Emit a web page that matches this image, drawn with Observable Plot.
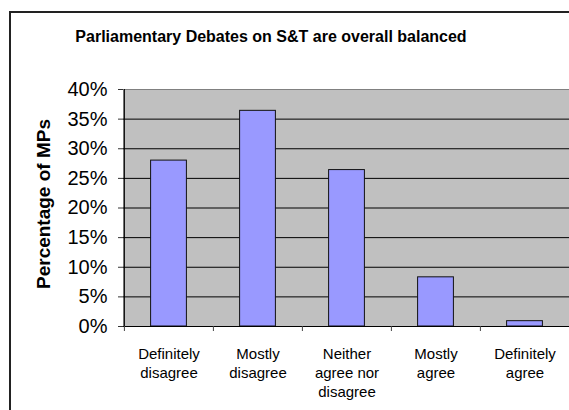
<!DOCTYPE html>
<html><head><meta charset="utf-8">
<script src="https://cdn.jsdelivr.net/npm/d3@7"></script>
<script src="https://cdn.jsdelivr.net/npm/@observablehq/plot@0.6"></script>
<style>
html,body{margin:0;padding:0;background:#fff;}
#wrap{position:relative;width:569px;height:410px;overflow:hidden;font-family:Arial,"Liberation Sans",sans-serif;}
#border{position:absolute;left:9px;top:11px;width:700px;height:600px;border:2px solid #222;box-sizing:border-box}
#title{position:absolute;left:0;top:29px;width:542px;text-align:center;font-weight:bold;font-size:16px;line-height:16px;color:#000}
#chart{position:absolute;left:0;top:0}
</style></head>
<body><div id="wrap"><div id="border"></div><div id="chart"></div><div id="title"></div></div>
<script>
const title = "Parliamentary Debates on S&T are overall balanced";
const yLabel = "Percentage of MPs";
const categories = ["Definitely\ndisagree", "Mostly\ndisagree", "Neither\nagree nor\ndisagree", "Mostly\nagree", "Definitely\nagree"];
const values = [0.280, 0.364, 0.264, 0.083, 0.009];
const yTicks = [0, 0.05, 0.10, 0.15, 0.20, 0.25, 0.30, 0.35, 0.40];

document.getElementById("title").textContent = title;

const W = 569, H = 410, mL = 123, mR = 0, mT = 89, mB = 84;
const step = (W - mL - mR) / categories.length;
const barWidth = 36;
const inset = (step - barWidth) / 2;
const data = categories.map((c, i) => ({category: c, value: values[i]}));

const chart = Plot.plot({
  width: W, height: H,
  marginLeft: mL, marginRight: mR, marginTop: mT, marginBottom: mB,
  style: {fontFamily: "Arial, 'Liberation Sans', sans-serif", background: "transparent", color: "#000", overflow: "visible"},
  x: {domain: categories, padding: 0, label: null},
  y: {domain: [0, 0.4], label: null},
  marks: [
    Plot.frame({fill: "#c0c0c0", stroke: "#808080"}),
    Plot.ruleY(yTicks.filter(t => t > 0 && t < 0.4), {stroke: "#000", strokeWidth: 1}),
    Plot.barY(data, {x: "category", y: "value", fill: "#9999ff", stroke: "#111", strokeWidth: 1, insetLeft: inset, insetRight: inset}),
    Plot.ruleY([0], {stroke: "#000"}),
    Plot.ruleX(categories.slice(0, 1), {x: d => d, y1: 0, y2: 0.4, dx: -step / 2, stroke: "#000"}),
    Plot.ruleX(categories, {x: d => d, y1: 0, y2: 0, insetBottom: -5, dx: -step / 2, stroke: "#444"}),
    Plot.axisY({ticks: yTicks, tickFormat: d3.format(".0%"), tickSize: 5, tickPadding: 11, fontSize: 20, label: null, stroke: "#333"}),
    Plot.axisX({tickSize: 0, tickPadding: 19, fontSize: 15, lineHeight: 1.27, label: null}),
    Plot.text([yLabel], {frameAnchor: "left", textAnchor: "middle", text: d => d, rotate: -90, dx: -80, dy: -4, fontSize: 19, fontWeight: "bold"})
  ]
});
document.getElementById("chart").appendChild(chart);
</script>
</body></html>
